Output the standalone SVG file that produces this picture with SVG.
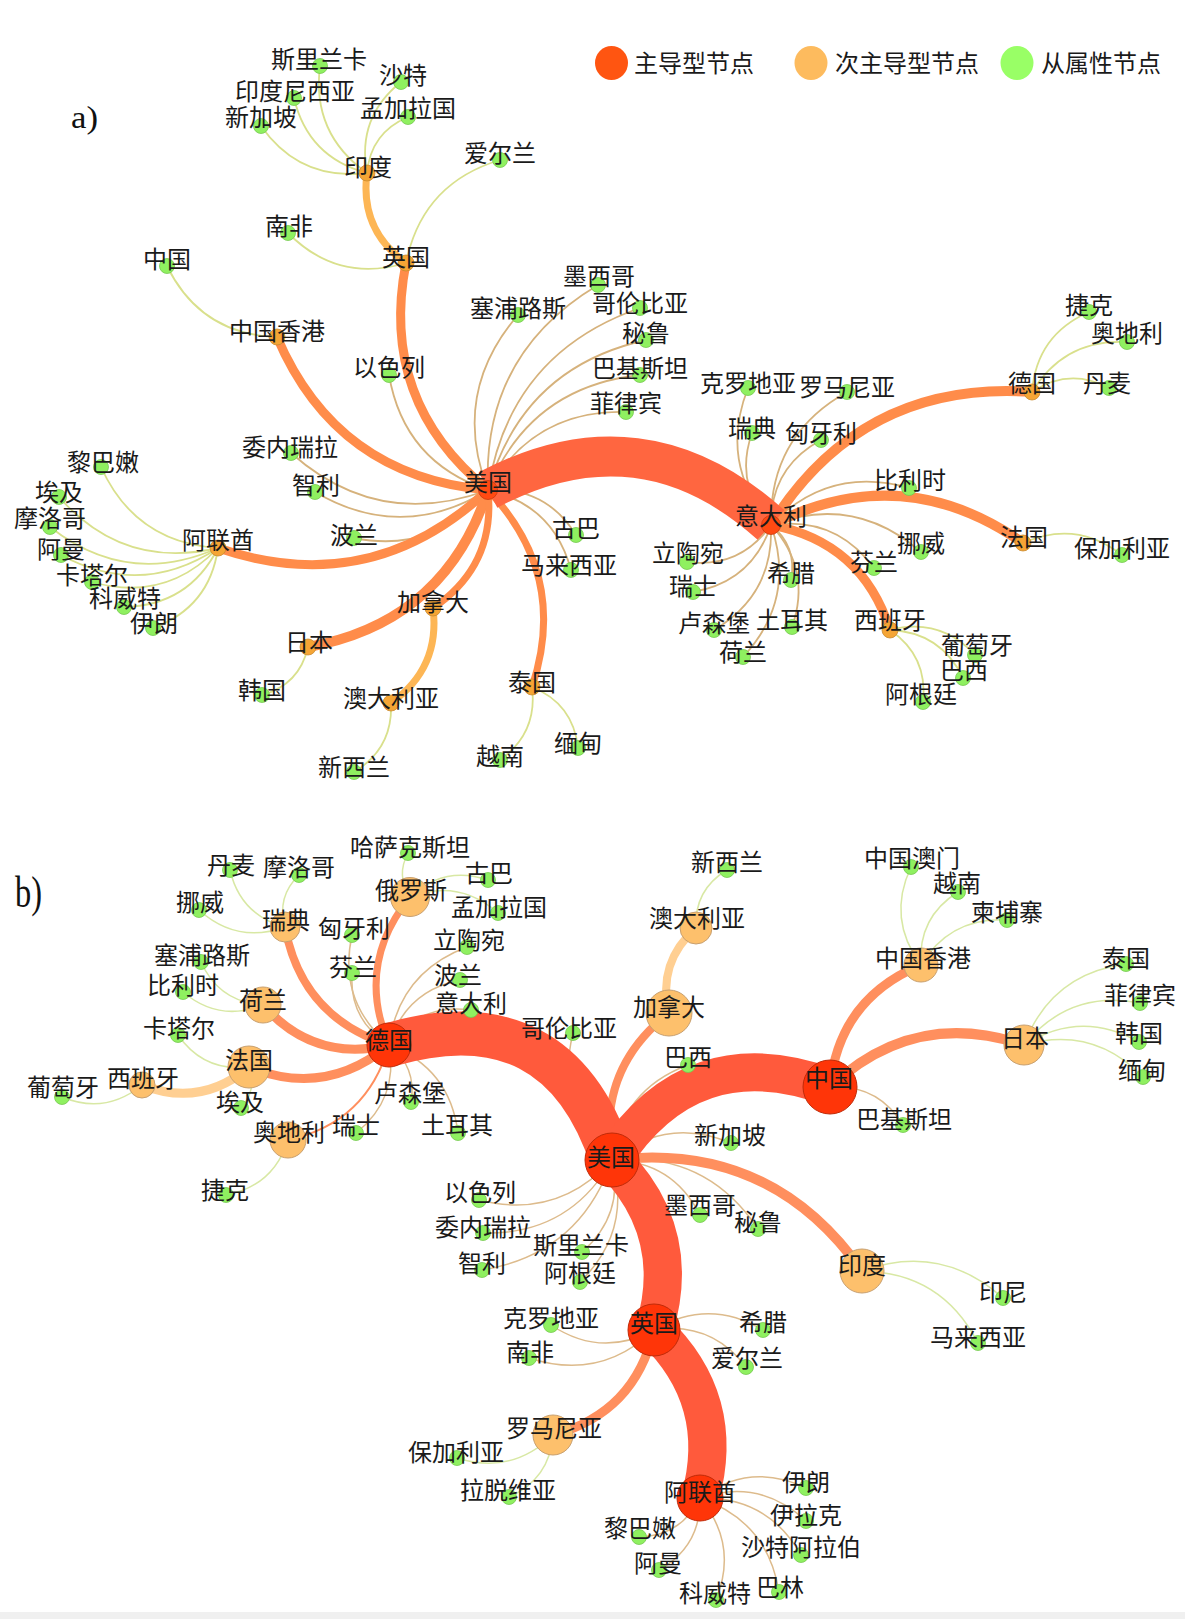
<svg xmlns="http://www.w3.org/2000/svg" width="1185" height="1619" viewBox="0 0 1185 1619">
<style>
.lbl{font-family:"Liberation Serif","Noto Sans CJK SC",serif;font-size:24px;fill:#1a1a1a;text-anchor:middle}
.leg{font-family:"Liberation Serif","Noto Sans CJK SC",serif;font-size:24px;fill:#1a1a1a}
.tag{font-family:"Liberation Serif",serif;fill:#111}
path{fill:none}
.band-a{stroke:#FF6640;stroke-width:40}
.band-b{stroke:#FF5A3C}
.eo-a{stroke:#FF8C4A}
.el-a{stroke:#FDB655;stroke-width:7}
.eo-b{stroke:#FF8F5E}
.el-b{stroke:#FFCF92}
.et-a{stroke:#D6B27C;stroke-width:1.8}
.ey-a{stroke:#D9E08C;stroke-width:1.8}
.et-b{stroke:#DDBB8C;stroke-width:1.5}
.ey-b{stroke:#D8E8A4;stroke-width:1.5}
.ra{fill:#FF4A12;stroke:#c83a10;stroke-width:0.8}
.oa{fill:#F5A535;stroke:#c98a30;stroke-width:0.8}
.g{fill:#8FF060;stroke:#76c850;stroke-width:0.8}
.rb{fill:#FF3508;stroke:#c02a08;stroke-width:1}
.ob{fill:#FDC06C;stroke:#c8a070;stroke-width:1}
</style>
<rect x="0" y="0" width="1185" height="1619" fill="#ffffff"/>
<rect x="0" y="1612" width="1185" height="7" fill="#f0f0f0"/>

<g id="legend">
<ellipse cx="611.5" cy="63" rx="16.5" ry="17" fill="#FF5511"/>
<text class="leg" x="634" y="72">主导型节点</text>
<ellipse cx="811" cy="63" rx="16.5" ry="17" fill="#FDBB5E"/>
<text class="leg" x="835" y="72">次主导型节点</text>
<ellipse cx="1017" cy="63" rx="16.5" ry="17" fill="#99FF66"/>
<text class="leg" x="1041" y="72">从属性节点</text>
</g>
<text class="tag" x="71" y="128" font-size="32" textLength="27" lengthAdjust="spacingAndGlyphs">a)</text>
<text class="tag" x="15" y="907" font-size="44" textLength="27" lengthAdjust="spacingAndGlyphs">b)</text>

<g id="connectors">
<!-- diagram a -->
<path class="et-a" d="M518,315 Q450.5,393.5 488,490"/>
<path class="et-a" d="M598,285 Q481.5,354.5 488,490"/>
<path class="et-a" d="M640,308 Q509.4,353.4 488,490"/>
<path class="et-a" d="M646,340 Q522,367.6 488,490"/>
<path class="et-a" d="M640,375 Q529.5,386.9 488,490"/>
<path class="et-a" d="M626,412 Q533.6,409.6 488,490"/>
<path class="et-a" d="M389,375 Q404,462.2 488,490"/>
<path class="et-a" d="M291,453 Q378.4,530.6 488,490"/>
<path class="et-a" d="M315,492 Q402.1,542.9 488,490"/>
<path class="et-a" d="M354,538 Q435.4,554.2 488,490"/>
<path class="et-a" d="M576,535 Q545.5,486.1 488,490"/>
<path class="et-a" d="M571,570 Q553.5,505.1 488,490"/>
<path class="et-a" d="M748,388 Q718.4,463.4 771,525"/>
<path class="et-a" d="M847,392 Q769.1,435.7 771,525"/>
<path class="et-a" d="M752,433 Q733.9,484.7 771,525"/>
<path class="et-a" d="M821,440 Q770.5,467.5 771,525"/>
<path class="et-a" d="M909,488 Q828.9,465.1 771,525"/>
<path class="et-a" d="M921,552 Q854.1,493.5 771,525"/>
<path class="et-a" d="M874,568 Q835.4,515.6 771,525"/>
<path class="et-a" d="M687,562 Q740.1,568.7 771,525"/>
<path class="et-a" d="M693,592 Q752.1,581.9 771,525"/>
<path class="et-a" d="M791,580 Q797.5,546.5 771,525"/>
<path class="et-a" d="M714,630 Q774,594.6 771,525"/>
<path class="et-a" d="M792,627 Q812.1,569.7 771,525"/>
<path class="et-a" d="M743,657 Q796.6,599.4 771,525"/>
<path class="ey-a" d="M320,66 Q311.4,133.6 367,173"/>
<path class="ey-a" d="M401,82 Q356.7,117.3 367,173"/>
<path class="ey-a" d="M294,98 Q308,157.4 367,173"/>
<path class="ey-a" d="M408,117 Q370.7,132.7 367,173"/>
<path class="ey-a" d="M261,126 Q299.9,181.3 367,173"/>
<path class="ey-a" d="M500,160 Q422.1,183.3 406,263"/>
<path class="ey-a" d="M288,233 Q338,283.4 406,263"/>
<path class="ey-a" d="M167,266 Q200.7,334.5 277,337"/>
<path class="ey-a" d="M101,467 Q135.2,542.6 218,548"/>
<path class="ey-a" d="M59,497 Q123.2,570.2 218,548"/>
<path class="ey-a" d="M50,527 Q127.7,587.9 218,548"/>
<path class="ey-a" d="M61,555 Q141.6,598.6 218,548"/>
<path class="ey-a" d="M92,582 Q165.2,602.8 218,548"/>
<path class="ey-a" d="M124,607 Q188.7,605.7 218,548"/>
<path class="ey-a" d="M153,628 Q209.5,607.5 218,548"/>
<path class="ey-a" d="M262,695 Q299.4,684.8 308,647"/>
<path class="ey-a" d="M354,772 Q393.2,748.6 391,703"/>
<path class="ey-a" d="M500,760 Q537.9,733.1 532,687"/>
<path class="ey-a" d="M578,748 Q573.3,703.7 532,687"/>
<path class="ey-a" d="M1089,312 Q1036.5,334.9 1032,392"/>
<path class="ey-a" d="M1127,342 Q1064.5,338.5 1032,392"/>
<path class="ey-a" d="M1109,388 Q1069.3,366.9 1032,392"/>
<path class="ey-a" d="M1122,555 Q1076.1,519.3 1023,543"/>
<path class="ey-a" d="M975,655 Q940,617 890,630"/>
<path class="ey-a" d="M963,678 Q940.9,632.1 890,630"/>
<path class="ey-a" d="M923,702 Q928.1,656.1 890,630"/>
<path class="el-a" d="M367,173 Q359.5,229.7 406,263"/>
<path class="el-a" d="M391,703 Q440.5,668.1 433,608"/>
<path class="eo-a" stroke-width="9" d="M406,263 Q378.9,401.1 488,490"/>
<path class="eo-a" stroke-width="9" d="M277,337 Q336.6,476.8 488,490"/>
<path class="eo-a" stroke-width="9" d="M218,548 Q370.4,600 488,490"/>
<path class="eo-a" stroke-width="10" d="M308,647 Q445.1,622.5 488,490"/>
<path class="eo-a" stroke-width="7" d="M433,608 Q495.9,565.5 488,490"/>
<path class="eo-a" stroke-width="7" d="M532,687 Q569.1,575.3 488,490"/>
<path class="eo-a" stroke-width="10" d="M1032,392 Q861.6,380.2 771,525"/>
<path class="eo-a" stroke-width="10" d="M1023,543 Q902.4,458.4 771,525"/>
<path class="eo-a" stroke-width="9" d="M890,630 Q862,541.8 771,525"/>
<path class="band-a" d="M771,525 Q641.8,408.5 488,490"/>
<!-- diagram b -->
<path class="et-b" d="M573,1033 Q554.4,1108.2 612,1160"/>
<path class="et-b" d="M688,1065 Q621.5,1089.7 612,1160"/>
<path class="et-b" d="M731,1143 Q666.4,1115.8 612,1160"/>
<path class="et-b" d="M700,1215 Q672.5,1161.1 612,1160"/>
<path class="et-b" d="M758,1229 Q705.7,1150.7 612,1160"/>
<path class="et-b" d="M479,1200 Q557.5,1219.9 612,1160"/>
<path class="et-b" d="M483,1233 Q569.4,1235.2 612,1160"/>
<path class="et-b" d="M482,1270 Q580,1254 612,1160"/>
<path class="et-b" d="M582,1252 Q624.6,1215 612,1160"/>
<path class="et-b" d="M580,1282 Q632.6,1230.6 612,1160"/>
<path class="et-b" d="M352,935 Q337.5,1001.1 389,1045"/>
<path class="et-b" d="M352,973 Q348.9,1020.1 389,1045"/>
<path class="et-b" d="M467,947 Q398.6,972.6 389,1045"/>
<path class="et-b" d="M460,980 Q405,991.2 389,1045"/>
<path class="et-b" d="M471,1010 Q419.5,1002.9 389,1045"/>
<path class="et-b" d="M411,1102 Q417.1,1066.9 389,1045"/>
<path class="et-b" d="M458,1133 Q449.9,1068.3 389,1045"/>
<path class="et-b" d="M356,1133 Q398.9,1098.9 389,1045"/>
<path class="et-b" d="M903,1125 Q877.9,1084.1 830,1087"/>
<path class="et-b" d="M551,1325 Q601,1358.4 654,1330"/>
<path class="et-b" d="M529,1358 Q599.9,1381.5 654,1330"/>
<path class="et-b" d="M763,1330 Q708.5,1297.3 654,1330"/>
<path class="et-b" d="M746,1367 Q711.1,1320.9 654,1330"/>
<path class="et-b" d="M806,1488 Q750,1461.2 700,1498"/>
<path class="et-b" d="M806,1521 Q759.9,1477.7 700,1498"/>
<path class="et-b" d="M801,1555 Q767.6,1496.2 700,1498"/>
<path class="et-b" d="M779,1592 Q767.7,1521.3 700,1498"/>
<path class="et-b" d="M716,1600 Q738.6,1544.2 700,1498"/>
<path class="et-b" d="M659,1570 Q701.1,1546.3 700,1498"/>
<path class="et-b" d="M639,1537 Q681.2,1535.8 700,1498"/>
<path class="ey-b" d="M408,853 Q395.8,875.6 410,897"/>
<path class="ey-b" d="M488,880 Q443.9,865.1 410,897"/>
<path class="ey-b" d="M498,913 Q458.8,878.6 410,897"/>
<path class="ey-b" d="M230,870 Q240.4,915 285,927"/>
<path class="ey-b" d="M299,875 Q276.4,896.8 285,927"/>
<path class="ey-b" d="M199,910 Q236.9,944.3 285,927"/>
<path class="ey-b" d="M201,962 Q219.1,1002.1 263,1005"/>
<path class="ey-b" d="M183,992 Q219.1,1022.5 263,1005"/>
<path class="ey-b" d="M178,1035 Q203.9,1072.3 249,1067"/>
<path class="ey-b" d="M241,1108 Q257.3,1089.9 249,1067"/>
<path class="ey-b" d="M62,1097 Q105.6,1115 142,1085"/>
<path class="ey-b" d="M226,1195 Q273.5,1186.1 288,1140"/>
<path class="ey-b" d="M727,870 Q694.1,889.7 696,928"/>
<path class="ey-b" d="M911,867 Q886.6,919 921,965"/>
<path class="ey-b" d="M958,892 Q917.6,917.4 921,965"/>
<path class="ey-b" d="M1007,920 Q950.5,916.7 921,965"/>
<path class="ey-b" d="M1126,964 Q1050.7,973.9 1024,1045"/>
<path class="ey-b" d="M1140,1003 Q1069.4,989.2 1024,1045"/>
<path class="ey-b" d="M1139,1042 Q1080.6,1009 1024,1045"/>
<path class="ey-b" d="M1143,1077 Q1093.1,1025.3 1024,1045"/>
<path class="ey-b" d="M1003,1298 Q940.6,1242.2 862,1271"/>
<path class="ey-b" d="M978,1343 Q941.6,1272.2 862,1271"/>
<path class="ey-b" d="M457,1458 Q511.9,1475.3 553,1435"/>
<path class="ey-b" d="M509,1497 Q549.6,1479.2 553,1435"/>
<path class="el-b" stroke-width="8" d="M696,928 Q657,962.4 669,1013"/>
<path class="el-b" stroke-width="9" d="M142,1085 Q200.9,1108.1 249,1067"/>
<path class="eo-b" stroke-width="10" d="M862,1271 Q770.3,1140.5 612,1160"/>
<path class="eo-b" stroke-width="8" d="M669,1013 Q596.4,1069.4 612,1160"/>
<path class="eo-b" stroke-width="9" d="M921,965 Q838.9,998.7 830,1087"/>
<path class="eo-b" stroke-width="10" d="M1024,1045 Q914.4,1007.8 830,1087"/>
<path class="eo-b" stroke-width="8" d="M285,927 Q301.6,1017.2 389,1045"/>
<path class="eo-b" stroke-width="7" d="M410,897 Q355.1,964.7 389,1045"/>
<path class="eo-b" stroke-width="9" d="M263,1005 Q314,1062.8 389,1045"/>
<path class="eo-b" stroke-width="9" d="M249,1067 Q325.6,1098 389,1045"/>
<path class="eo-b" stroke-width="2" d="M288,1140 Q367,1122.8 389,1045"/>
<path class="eo-b" stroke-width="9" d="M553,1435 Q635,1412.8 654,1330"/>
<path class="band-b" stroke-width="44" d="M612,1160 Q558,995.5 389,1045"/>
<path class="band-b" stroke-width="38" d="M830,1087 Q691.8,1036.3 612,1160"/>
<path class="band-b" stroke-width="38" d="M654,1330 Q684,1232.4 612,1160"/>
<path class="band-b" stroke-width="38" d="M700,1498 Q727.4,1400.2 654,1330"/>
</g>

<!-- diagram a nodes -->
<g id="a-usa"><circle class="ra" cx="488" cy="490" r="9.5"/><text class="lbl" x="488" y="491">美国</text></g>
<g id="a-italy"><circle class="ra" cx="771" cy="525" r="9.5"/><text class="lbl" x="771" y="525">意大利</text></g>
<g id="a-india"><circle class="oa" cx="367" cy="173" r="8"/><text class="lbl" x="368" y="176">印度</text></g>
<g id="a-uk"><circle class="oa" cx="406" cy="263" r="8"/><text class="lbl" x="406" y="266">英国</text></g>
<g id="a-hk"><circle class="oa" cx="277" cy="337" r="8"/><text class="lbl" x="277" y="340">中国香港</text></g>
<g id="a-uae"><circle class="oa" cx="218" cy="548" r="8"/><text class="lbl" x="218" y="549">阿联酋</text></g>
<g id="a-canada"><circle class="oa" cx="433" cy="608" r="8"/><text class="lbl" x="433" y="611">加拿大</text></g>
<g id="a-japan"><circle class="oa" cx="308" cy="647" r="8"/><text class="lbl" x="309" y="651">日本</text></g>
<g id="a-australia"><circle class="oa" cx="391" cy="703" r="8"/><text class="lbl" x="391" y="707">澳大利亚</text></g>
<g id="a-thailand"><circle class="oa" cx="532" cy="687" r="8"/><text class="lbl" x="532" y="691">泰国</text></g>
<g id="a-germany"><circle class="oa" cx="1032" cy="392" r="8"/><text class="lbl" x="1032" y="392">德国</text></g>
<g id="a-france"><circle class="oa" cx="1023" cy="543" r="8"/><text class="lbl" x="1024" y="546">法国</text></g>
<g id="a-spain"><circle class="oa" cx="890" cy="630" r="8"/><text class="lbl" x="890" y="629">西班牙</text></g>
<g id="a-srilanka"><circle class="g" cx="320" cy="66" r="7.5"/><text class="lbl" x="319" y="68">斯里兰卡</text></g>
<g id="a-saudi"><circle class="g" cx="401" cy="82" r="7.5"/><text class="lbl" x="403" y="84">沙特</text></g>
<g id="a-indonesia"><circle class="g" cx="294" cy="98" r="7.5"/><text class="lbl" x="295" y="100">印度尼西亚</text></g>
<g id="a-bangladesh"><circle class="g" cx="408" cy="117" r="7.5"/><text class="lbl" x="408" y="117">孟加拉国</text></g>
<g id="a-singapore"><circle class="g" cx="261" cy="126" r="7.5"/><text class="lbl" x="261" y="126">新加坡</text></g>
<g id="a-ireland"><circle class="g" cx="500" cy="160" r="7.5"/><text class="lbl" x="500" y="162">爱尔兰</text></g>
<g id="a-southafrica"><circle class="g" cx="288" cy="233" r="7.5"/><text class="lbl" x="289" y="235">南非</text></g>
<g id="a-china"><circle class="g" cx="167" cy="266" r="7.5"/><text class="lbl" x="167" y="268">中国</text></g>
<g id="a-cyprus"><circle class="g" cx="518" cy="315" r="7.5"/><text class="lbl" x="518" y="317">塞浦路斯</text></g>
<g id="a-israel"><circle class="g" cx="389" cy="375" r="7.5"/><text class="lbl" x="389" y="376">以色列</text></g>
<g id="a-mexico"><circle class="g" cx="598" cy="285" r="7.5"/><text class="lbl" x="599" y="285">墨西哥</text></g>
<g id="a-colombia"><circle class="g" cx="640" cy="308" r="7.5"/><text class="lbl" x="640" y="312">哥伦比亚</text></g>
<g id="a-peru"><circle class="g" cx="646" cy="340" r="7.5"/><text class="lbl" x="646" y="342">秘鲁</text></g>
<g id="a-pakistan"><circle class="g" cx="640" cy="375" r="7.5"/><text class="lbl" x="640" y="377">巴基斯坦</text></g>
<g id="a-philippines"><circle class="g" cx="626" cy="412" r="7.5"/><text class="lbl" x="626" y="412">菲律宾</text></g>
<g id="a-venezuela"><circle class="g" cx="291" cy="453" r="7.5"/><text class="lbl" x="290" y="456">委内瑞拉</text></g>
<g id="a-chile"><circle class="g" cx="315" cy="492" r="7.5"/><text class="lbl" x="316" y="494">智利</text></g>
<g id="a-poland"><circle class="g" cx="354" cy="538" r="7.5"/><text class="lbl" x="354" y="544">波兰</text></g>
<g id="a-cuba"><circle class="g" cx="576" cy="535" r="7.5"/><text class="lbl" x="576" y="537">古巴</text></g>
<g id="a-malaysia"><circle class="g" cx="571" cy="570" r="7.5"/><text class="lbl" x="569" y="574">马来西亚</text></g>
<g id="a-lebanon"><circle class="g" cx="101" cy="467" r="7.5"/><text class="lbl" x="103" y="471">黎巴嫩</text></g>
<g id="a-egypt"><circle class="g" cx="59" cy="497" r="7.5"/><text class="lbl" x="59" y="501">埃及</text></g>
<g id="a-morocco"><circle class="g" cx="50" cy="527" r="7.5"/><text class="lbl" x="50" y="527">摩洛哥</text></g>
<g id="a-oman"><circle class="g" cx="61" cy="555" r="7.5"/><text class="lbl" x="61" y="558">阿曼</text></g>
<g id="a-qatar"><circle class="g" cx="92" cy="582" r="7.5"/><text class="lbl" x="92" y="584">卡塔尔</text></g>
<g id="a-kuwait"><circle class="g" cx="124" cy="607" r="7.5"/><text class="lbl" x="125" y="607">科威特</text></g>
<g id="a-iran"><circle class="g" cx="153" cy="628" r="7.5"/><text class="lbl" x="154" y="632">伊朗</text></g>
<g id="a-korea"><circle class="g" cx="262" cy="695" r="7.5"/><text class="lbl" x="262" y="699">韩国</text></g>
<g id="a-newzealand"><circle class="g" cx="354" cy="772" r="7.5"/><text class="lbl" x="354" y="776">新西兰</text></g>
<g id="a-vietnam"><circle class="g" cx="500" cy="760" r="7.5"/><text class="lbl" x="500" y="765">越南</text></g>
<g id="a-myanmar"><circle class="g" cx="578" cy="748" r="7.5"/><text class="lbl" x="578" y="752">缅甸</text></g>
<g id="a-croatia"><circle class="g" cx="748" cy="388" r="7.5"/><text class="lbl" x="748" y="392">克罗地亚</text></g>
<g id="a-romania"><circle class="g" cx="847" cy="392" r="7.5"/><text class="lbl" x="847" y="396">罗马尼亚</text></g>
<g id="a-sweden"><circle class="g" cx="752" cy="433" r="7.5"/><text class="lbl" x="752" y="437">瑞典</text></g>
<g id="a-hungary"><circle class="g" cx="821" cy="440" r="7.5"/><text class="lbl" x="821" y="442">匈牙利</text></g>
<g id="a-belgium"><circle class="g" cx="909" cy="488" r="7.5"/><text class="lbl" x="910" y="489">比利时</text></g>
<g id="a-norway"><circle class="g" cx="921" cy="552" r="7.5"/><text class="lbl" x="921" y="552">挪威</text></g>
<g id="a-finland"><circle class="g" cx="874" cy="568" r="7.5"/><text class="lbl" x="874" y="571">芬兰</text></g>
<g id="a-lithuania"><circle class="g" cx="687" cy="562" r="7.5"/><text class="lbl" x="688" y="562">立陶宛</text></g>
<g id="a-switzerland"><circle class="g" cx="693" cy="592" r="7.5"/><text class="lbl" x="693" y="595">瑞士</text></g>
<g id="a-greece"><circle class="g" cx="791" cy="580" r="7.5"/><text class="lbl" x="791" y="582">希腊</text></g>
<g id="a-luxembourg"><circle class="g" cx="714" cy="630" r="7.5"/><text class="lbl" x="714" y="632">卢森堡</text></g>
<g id="a-turkey"><circle class="g" cx="792" cy="627" r="7.5"/><text class="lbl" x="792" y="629">土耳其</text></g>
<g id="a-netherlands"><circle class="g" cx="743" cy="657" r="7.5"/><text class="lbl" x="743" y="661">荷兰</text></g>
<g id="a-czech"><circle class="g" cx="1089" cy="312" r="7.5"/><text class="lbl" x="1089" y="314">捷克</text></g>
<g id="a-austria"><circle class="g" cx="1127" cy="342" r="7.5"/><text class="lbl" x="1127" y="342">奥地利</text></g>
<g id="a-denmark"><circle class="g" cx="1109" cy="388" r="7.5"/><text class="lbl" x="1107" y="392">丹麦</text></g>
<g id="a-bulgaria"><circle class="g" cx="1122" cy="555" r="7.5"/><text class="lbl" x="1122" y="557">保加利亚</text></g>
<g id="a-portugal"><circle class="g" cx="975" cy="655" r="7.5"/><text class="lbl" x="977" y="654">葡萄牙</text></g>
<g id="a-brazil"><circle class="g" cx="963" cy="678" r="7.5"/><text class="lbl" x="964" y="679">巴西</text></g>
<g id="a-argentina"><circle class="g" cx="923" cy="702" r="7.5"/><text class="lbl" x="921" y="703">阿根廷</text></g>

<!-- diagram b nodes -->
<g id="b-usa"><circle class="rb" cx="612" cy="1160" r="27"/><text class="lbl" x="611" y="1166">美国</text></g>
<g id="b-germany"><circle class="rb" cx="389" cy="1045" r="22"/><text class="lbl" x="389" y="1049">德国</text></g>
<g id="b-china"><circle class="rb" cx="830" cy="1087" r="27"/><text class="lbl" x="829" y="1087">中国</text></g>
<g id="b-uk"><circle class="rb" cx="654" cy="1330" r="26"/><text class="lbl" x="654" y="1332">英国</text></g>
<g id="b-uae"><circle class="rb" cx="700" cy="1498" r="23"/><text class="lbl" x="700" y="1501">阿联酋</text></g>
<g id="b-russia"><circle class="ob" cx="410" cy="897" r="19.5"/><text class="lbl" x="411" y="899">俄罗斯</text></g>
<g id="b-sweden"><circle class="ob" cx="285" cy="927" r="15"/><text class="lbl" x="286" y="929">瑞典</text></g>
<g id="b-netherlands"><circle class="ob" cx="263" cy="1005" r="18"/><text class="lbl" x="263" y="1009">荷兰</text></g>
<g id="b-france"><circle class="ob" cx="249" cy="1067" r="21"/><text class="lbl" x="249" y="1069">法国</text></g>
<g id="b-spain"><circle class="ob" cx="142" cy="1085" r="13"/><text class="lbl" x="143" y="1087">西班牙</text></g>
<g id="b-austria"><circle class="ob" cx="288" cy="1140" r="18"/><text class="lbl" x="289" y="1141">奥地利</text></g>
<g id="b-australia"><circle class="ob" cx="696" cy="928" r="16"/><text class="lbl" x="697" y="927">澳大利亚</text></g>
<g id="b-canada"><circle class="ob" cx="669" cy="1013" r="23"/><text class="lbl" x="669" y="1016">加拿大</text></g>
<g id="b-hk"><circle class="ob" cx="921" cy="965" r="17"/><text class="lbl" x="923" y="967">中国香港</text></g>
<g id="b-japan"><circle class="ob" cx="1024" cy="1045" r="20"/><text class="lbl" x="1025" y="1047">日本</text></g>
<g id="b-india"><circle class="ob" cx="862" cy="1271" r="22"/><text class="lbl" x="862" y="1274">印度</text></g>
<g id="b-romania"><circle class="ob" cx="553" cy="1435" r="20"/><text class="lbl" x="554" y="1437">罗马尼亚</text></g>
<g id="b-kazakhstan"><circle class="g" cx="408" cy="853" r="7.5"/><text class="lbl" x="410" y="856">哈萨克斯坦</text></g>
<g id="b-denmark"><circle class="g" cx="230" cy="870" r="7.5"/><text class="lbl" x="231" y="874">丹麦</text></g>
<g id="b-morocco"><circle class="g" cx="299" cy="875" r="7.5"/><text class="lbl" x="299" y="876">摩洛哥</text></g>
<g id="b-cuba"><circle class="g" cx="488" cy="880" r="7.5"/><text class="lbl" x="489" y="882">古巴</text></g>
<g id="b-norway"><circle class="g" cx="199" cy="910" r="7.5"/><text class="lbl" x="200" y="911">挪威</text></g>
<g id="b-bangladesh"><circle class="g" cx="498" cy="913" r="7.5"/><text class="lbl" x="499" y="916">孟加拉国</text></g>
<g id="b-hungary"><circle class="g" cx="352" cy="935" r="7.5"/><text class="lbl" x="354" y="937">匈牙利</text></g>
<g id="b-lithuania"><circle class="g" cx="467" cy="947" r="7.5"/><text class="lbl" x="469" y="949">立陶宛</text></g>
<g id="b-cyprus"><circle class="g" cx="201" cy="962" r="7.5"/><text class="lbl" x="202" y="964">塞浦路斯</text></g>
<g id="b-finland"><circle class="g" cx="352" cy="973" r="7.5"/><text class="lbl" x="353" y="976">芬兰</text></g>
<g id="b-poland"><circle class="g" cx="460" cy="980" r="7.5"/><text class="lbl" x="458" y="984">波兰</text></g>
<g id="b-belgium"><circle class="g" cx="183" cy="992" r="7.5"/><text class="lbl" x="183" y="994">比利时</text></g>
<g id="b-italy"><circle class="g" cx="471" cy="1010" r="7.5"/><text class="lbl" x="471" y="1012">意大利</text></g>
<g id="b-colombia"><circle class="g" cx="573" cy="1033" r="7.5"/><text class="lbl" x="569" y="1037">哥伦比亚</text></g>
<g id="b-qatar"><circle class="g" cx="178" cy="1035" r="7.5"/><text class="lbl" x="179" y="1037">卡塔尔</text></g>
<g id="b-portugal"><circle class="g" cx="62" cy="1097" r="7.5"/><text class="lbl" x="63" y="1096">葡萄牙</text></g>
<g id="b-luxembourg"><circle class="g" cx="411" cy="1102" r="7.5"/><text class="lbl" x="410" y="1102">卢森堡</text></g>
<g id="b-egypt"><circle class="g" cx="241" cy="1108" r="7.5"/><text class="lbl" x="240" y="1111">埃及</text></g>
<g id="b-switzerland"><circle class="g" cx="356" cy="1133" r="7.5"/><text class="lbl" x="356" y="1134">瑞士</text></g>
<g id="b-turkey"><circle class="g" cx="458" cy="1133" r="7.5"/><text class="lbl" x="457" y="1134">土耳其</text></g>
<g id="b-czech"><circle class="g" cx="226" cy="1195" r="7.5"/><text class="lbl" x="225" y="1199">捷克</text></g>
<g id="b-israel"><circle class="g" cx="479" cy="1200" r="7.5"/><text class="lbl" x="480" y="1201">以色列</text></g>
<g id="b-newzealand"><circle class="g" cx="727" cy="870" r="7.5"/><text class="lbl" x="727" y="871">新西兰</text></g>
<g id="b-macau"><circle class="g" cx="911" cy="867" r="7.5"/><text class="lbl" x="912" y="867">中国澳门</text></g>
<g id="b-vietnam"><circle class="g" cx="958" cy="892" r="7.5"/><text class="lbl" x="957" y="892">越南</text></g>
<g id="b-cambodia"><circle class="g" cx="1007" cy="920" r="7.5"/><text class="lbl" x="1007" y="921">柬埔寨</text></g>
<g id="b-thailand"><circle class="g" cx="1126" cy="964" r="7.5"/><text class="lbl" x="1126" y="967">泰国</text></g>
<g id="b-philippines"><circle class="g" cx="1140" cy="1003" r="7.5"/><text class="lbl" x="1140" y="1004">菲律宾</text></g>
<g id="b-korea"><circle class="g" cx="1139" cy="1042" r="7.5"/><text class="lbl" x="1139" y="1042">韩国</text></g>
<g id="b-brazil"><circle class="g" cx="688" cy="1065" r="7.5"/><text class="lbl" x="688" y="1066">巴西</text></g>
<g id="b-myanmar"><circle class="g" cx="1143" cy="1077" r="7.5"/><text class="lbl" x="1142" y="1079">缅甸</text></g>
<g id="b-pakistan"><circle class="g" cx="903" cy="1125" r="7.5"/><text class="lbl" x="904" y="1128">巴基斯坦</text></g>
<g id="b-singapore"><circle class="g" cx="731" cy="1143" r="7.5"/><text class="lbl" x="730" y="1144">新加坡</text></g>
<g id="b-mexico"><circle class="g" cx="700" cy="1215" r="7.5"/><text class="lbl" x="700" y="1214">墨西哥</text></g>
<g id="b-peru"><circle class="g" cx="758" cy="1229" r="7.5"/><text class="lbl" x="758" y="1231">秘鲁</text></g>
<g id="b-venezuela"><circle class="g" cx="483" cy="1233" r="7.5"/><text class="lbl" x="483" y="1236">委内瑞拉</text></g>
<g id="b-srilanka"><circle class="g" cx="582" cy="1252" r="7.5"/><text class="lbl" x="581" y="1254">斯里兰卡</text></g>
<g id="b-chile"><circle class="g" cx="482" cy="1270" r="7.5"/><text class="lbl" x="482" y="1272">智利</text></g>
<g id="b-argentina"><circle class="g" cx="580" cy="1282" r="7.5"/><text class="lbl" x="580" y="1282">阿根廷</text></g>
<g id="b-croatia"><circle class="g" cx="551" cy="1325" r="7.5"/><text class="lbl" x="551" y="1327">克罗地亚</text></g>
<g id="b-greece"><circle class="g" cx="763" cy="1330" r="7.5"/><text class="lbl" x="763" y="1331">希腊</text></g>
<g id="b-southafrica"><circle class="g" cx="529" cy="1358" r="7.5"/><text class="lbl" x="530" y="1361">南非</text></g>
<g id="b-ireland"><circle class="g" cx="746" cy="1367" r="7.5"/><text class="lbl" x="747" y="1367">爱尔兰</text></g>
<g id="b-indonesia"><circle class="g" cx="1003" cy="1298" r="7.5"/><text class="lbl" x="1003" y="1301">印尼</text></g>
<g id="b-malaysia"><circle class="g" cx="978" cy="1343" r="7.5"/><text class="lbl" x="978" y="1346">马来西亚</text></g>
<g id="b-bulgaria"><circle class="g" cx="457" cy="1458" r="7.5"/><text class="lbl" x="456" y="1461">保加利亚</text></g>
<g id="b-latvia"><circle class="g" cx="509" cy="1497" r="7.5"/><text class="lbl" x="508" y="1499">拉脱维亚</text></g>
<g id="b-iran"><circle class="g" cx="806" cy="1488" r="7.5"/><text class="lbl" x="806" y="1491">伊朗</text></g>
<g id="b-iraq"><circle class="g" cx="806" cy="1521" r="7.5"/><text class="lbl" x="806" y="1524">伊拉克</text></g>
<g id="b-lebanon"><circle class="g" cx="639" cy="1537" r="7.5"/><text class="lbl" x="640" y="1537">黎巴嫩</text></g>
<g id="b-saudi"><circle class="g" cx="801" cy="1555" r="7.5"/><text class="lbl" x="801" y="1556">沙特阿拉伯</text></g>
<g id="b-oman"><circle class="g" cx="659" cy="1570" r="7.5"/><text class="lbl" x="658" y="1572">阿曼</text></g>
<g id="b-bahrain"><circle class="g" cx="779" cy="1592" r="7.5"/><text class="lbl" x="780" y="1596">巴林</text></g>
<g id="b-kuwait"><circle class="g" cx="716" cy="1600" r="7.5"/><text class="lbl" x="715" y="1602">科威特</text></g>
</svg>
